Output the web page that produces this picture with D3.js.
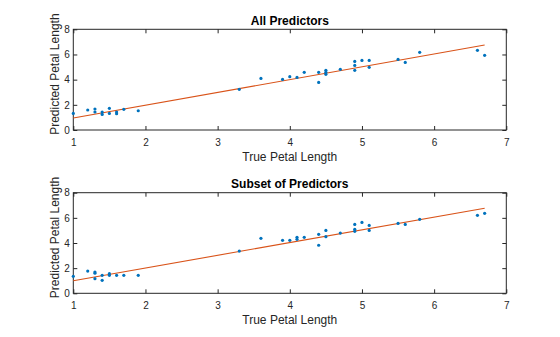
<!DOCTYPE html>
<html><head><meta charset="utf-8">
<script src="https://cdn.jsdelivr.net/npm/d3@7"></script>
<style>
html,body{margin:0;padding:0;background:#fff;}
svg text{font-family:"Liberation Sans",Arial,Helvetica,sans-serif;}
</style></head>
<body>
<svg id="chart" width="560" height="337"></svg>
<script>
const xTicks = [1,2,3,4,5,6,7];
const yTicks = [0,2,4,6,8];
const titles = ["All Predictors","Subset of Predictors"];
const xLabel = "True Petal Length";
const yLabel = "Predicted Petal Length";

const trueAll = [1.0,1.2,1.3,1.3,1.4,1.4,1.5,1.5,1.6,1.6,1.7,1.9,3.3,3.6,3.9,4.0,4.1,4.2,4.4,4.4,4.5,4.5,4.5,4.7,4.9,4.9,4.9,5.0,5.1,5.1,5.5,5.6,5.8,6.6,6.7];
const predAll = [1.32,1.59,1.67,1.43,1.43,1.24,1.72,1.32,1.43,1.30,1.64,1.53,3.23,4.10,4.02,4.24,4.18,4.58,4.58,3.78,4.74,4.58,4.42,4.82,5.45,5.13,4.74,5.53,5.53,4.98,5.61,5.37,6.17,6.33,5.93];

const trueSub = [1.0,1.2,1.3,1.3,1.3,1.4,1.4,1.5,1.5,1.6,1.7,1.9,3.3,3.6,3.9,4.0,4.1,4.1,4.2,4.4,4.4,4.5,4.5,4.7,4.9,4.9,4.9,5.0,5.1,5.1,5.5,5.6,5.8,6.6,6.7];
const predSub = [1.35,1.77,1.69,1.60,1.16,1.43,1.03,1.56,1.43,1.43,1.43,1.43,3.36,4.37,4.21,4.21,4.45,4.29,4.45,4.69,3.82,5.00,4.50,4.79,5.48,5.09,4.93,5.64,5.40,5.00,5.56,5.48,5.88,6.20,6.36];

const fitX = [1.0, 6.7];
const fitAll = [0.95, 6.75];
const fitSub = [1.0, 6.76];

const svg = d3.select("#chart");
const axColor = "#262626";
const left = 73.3, right = 506.3;
const panels = [
  {top:29.3, bottom:130, title:titles[0], xs:trueAll, ys:predAll, fy:fitAll},
  {top:192.7, bottom:293.3, title:titles[1], xs:trueSub, ys:predSub, fy:fitSub}
];

panels.forEach(p => {
  const x = d3.scaleLinear().domain([1,7]).range([left,right]);
  const y = d3.scaleLinear().domain([0,8]).range([p.bottom,p.top]);
  const g = svg.append("g");
  const tl = 4;

  g.append("rect").attr("x",left).attr("y",p.top).attr("width",right-left).attr("height",p.bottom-p.top)
    .attr("fill","none").attr("stroke",axColor).attr("stroke-width",1);

  const xa = g.append("g").attr("transform",`translate(0,${p.bottom})`)
    .call(d3.axisBottom(x).tickValues(xTicks).tickSize(-tl).tickPadding(8.5).tickFormat(d3.format("d")));
  const xt = g.append("g").attr("transform",`translate(0,${p.top})`)
    .call(d3.axisTop(x).tickValues(xTicks).tickSize(-tl).tickFormat(""));
  const ya = g.append("g").attr("transform",`translate(${left},0)`)
    .call(d3.axisLeft(y).tickValues(yTicks).tickSize(-tl).tickPadding(3.5).tickFormat(d3.format("d")));
  const yr = g.append("g").attr("transform",`translate(${right},0)`)
    .call(d3.axisRight(y).tickValues(yTicks).tickSize(-tl).tickFormat(""));
  [xa,xt,ya,yr].forEach(a => {
    a.select(".domain").remove();
    a.selectAll(".tick line").attr("stroke",axColor).attr("stroke-width",1);
    a.selectAll(".tick text").attr("fill",axColor).style("font-size","10px")
      .style("font-family","'Liberation Sans',Arial,Helvetica,sans-serif");
  });

  g.append("line")
    .attr("x1",x(fitX[0])).attr("y1",y(p.fy[0]))
    .attr("x2",x(fitX[1])).attr("y2",y(p.fy[1]))
    .attr("stroke","#D95319").attr("stroke-width",1.1);

  g.selectAll("circle.pt").data(p.xs.map((v,i)=>[v,p.ys[i]])).enter().append("circle")
    .attr("class","pt").attr("cx",d=>x(d[0])).attr("cy",d=>y(d[1])).attr("r",1.6)
    .attr("fill","#0072BD");

  g.append("text").attr("x",(left+right)/2).attr("y",p.top-4.5).attr("text-anchor","middle")
    .attr("fill","#000").style("font-size","12px").style("font-weight","bold").text(p.title);

  g.append("text").attr("x",(left+right)/2).attr("y",p.bottom+31).attr("text-anchor","middle")
    .attr("fill",axColor).style("font-size","12px").text(xLabel);

  g.append("text").attr("transform",`translate(${59},${(p.top+p.bottom)/2 - 5.5}) rotate(-90)`)
    .attr("text-anchor","middle").attr("fill",axColor).style("font-size","12px").text(yLabel);
});
</script>
</body></html>
